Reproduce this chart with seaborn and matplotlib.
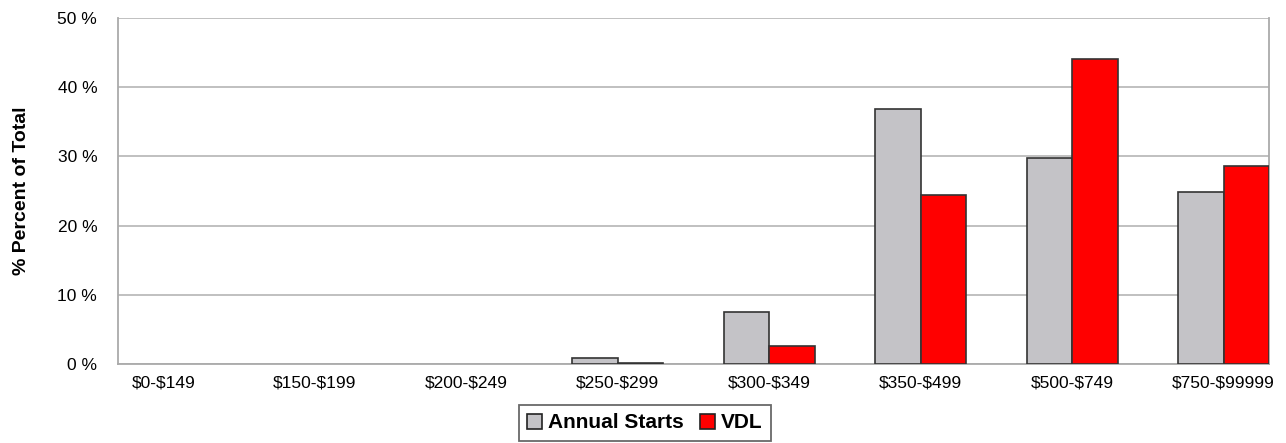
import matplotlib
matplotlib.use("Agg")
import matplotlib.pyplot as plt
import pandas as pd
import seaborn as sns

categories = ["$0-$149", "$150-$199", "$200-$249", "$250-$299",
              "$300-$349", "$350-$499", "$500-$749", "$750-$99999"]
annual_starts = [0.0, 0.0, 0.0, 0.8, 7.5, 36.8, 29.8, 24.9]
vdl = [0.0, 0.0, 0.0, 0.1, 2.6, 24.4, 44.1, 28.6]
series_names = ["Annual Starts", "VDL"]
colors = ["#C4C3C7", "#FF0000"]

sns.set_style("white")
plt.rcParams["font.family"] = ["Liberation Sans", "DejaVu Sans"]
plt.rcParams["text.parse_math"] = False
plt.rcParams["text.color"] = "black"
plt.rcParams["axes.labelcolor"] = "black"
plt.rcParams["xtick.labelcolor"] = "black"
plt.rcParams["ytick.labelcolor"] = "black"

df = pd.DataFrame({
    "Range": categories * 2,
    "Percent": annual_starts + vdl,
    "Series": [series_names[0]] * len(categories) + [series_names[1]] * len(categories),
})

fig = plt.figure(figsize=(12.86, 4.43), dpi=100)
ax = fig.add_axes([118 / 1286, 1 - 364 / 443, 1151 / 1286, 346 / 443])

sns.barplot(data=df, x="Range", y="Percent", hue="Series", palette=colors,
            saturation=1, width=0.6, edgecolor="#333333", linewidth=1.2, ax=ax,
            legend=False, zorder=3)

# empty bars draw no outline in the original
for patch in ax.patches:
    if patch.get_height() == 0:
        patch.set_visible(False)

ax.set_xlim(-0.3, len(categories) - 0.7)
ax.set_ylim(0, 50)
ax.set_yticks(range(0, 51, 10))
ax.set_yticklabels([f"{v} %" for v in range(0, 51, 10)], fontsize=12.5)
ax.set_xticks(range(len(categories)))
ax.set_xticklabels(categories, fontsize=12.5)
ax.set_xlabel("")
ax.set_ylabel("% Percent of Total", fontsize=14, fontweight="bold", labelpad=20)

ax.grid(axis="y", color="#BBBBBB", linewidth=1.3, zorder=0)
for side in ["left", "right", "bottom"]:
    ax.spines[side].set_color("#AAAAAA")
    ax.spines[side].set_linewidth(1.3)
ax.spines["top"].set_visible(False)
ax.tick_params(axis="y", direction="out", length=12, color="#AAAAAA", width=1.3, pad=3)
ax.tick_params(axis="x", direction="out", length=5, color="#AAAAAA", width=1.3, pad=3)

handles = [plt.Rectangle((0, 0), 1, 1, facecolor=c, edgecolor="#222222", linewidth=1.2)
           for c in colors]
leg = fig.legend(handles, series_names, loc="center", bbox_to_anchor=(645 / 1286, 1 - 423 / 443),
                 ncol=2, frameon=True, fancybox=False, handlelength=0.7, handleheight=0.7,
                 handletextpad=0.3, columnspacing=0.8, borderpad=0.4,
                 prop={"weight": "bold", "size": 15})
leg.get_frame().set_edgecolor("#444444")
leg.get_frame().set_linewidth(1.3)

fig.savefig("out.png", dpi=100)
